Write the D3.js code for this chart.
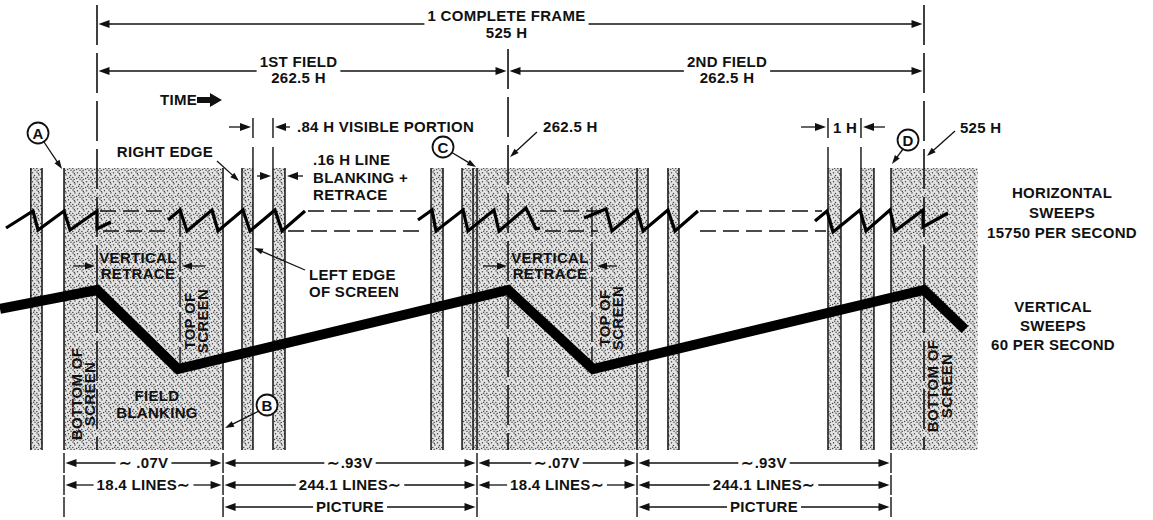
<!DOCTYPE html>
<html>
<head>
<meta charset="utf-8">
<script src="https://cdn.jsdelivr.net/npm/d3@7"></script>
<style>
  body { margin: 0; background: #fff; }
  svg { display: block; }
  text { font-family: "Liberation Sans", Arial, sans-serif; font-weight: bold; font-size: 15px; letter-spacing: 0.3px; fill: #111; }
</style>
</head>
<body>
<svg></svg>
<script>
var width = 1153,
    height = 520;

// Time runs left to right, in % of one complete frame (0 = frame start, 100 = frame end)
var frameEdges = [0, 49.7, 100];
var blankingEdges = [-8.0, -6.65, -3.99, 15.24, 17.53, 18.86, 21.28, 22.73,
    40.39, 41.84, 44.14, 45.47, 45.95, 65.30, 66.63, 69.04, 70.37,
    88.39, 89.96, 92.38, 93.95, 96.01];
var blankedSpans = [[-8.0, -6.65], [-3.99, 15.24], [17.53, 18.86], [21.28, 22.73],
    [40.39, 41.84], [44.14, 66.63], [69.04, 70.37], [88.39, 89.96], [92.38, 93.95], [96.01, 106.5]];
var screenTopMarks = [10.04, 59.85];

// Horizontal sweep: [time, beam position] with 0 = left edge, 1 = right edge
var hSweepA = [[-11.0, 0.15], [-7.74, 1], [-7.13, 0.05], [-3.99, 1], [-3.26, 0.05], [0, 1], [0, 0.1], [1.69, 0.45]];
var hSweepB = [[8.59, 0.55], [10.04, 1.05], [10.88, 0], [13.91, 1.05], [14.63, 0], [17.65, 1.05], [18.50, 0], [21.52, 1.05], [22.37, 0], [25.15, 1]];
var hSweepC = [[38.81, 0.55], [40.51, 1.05], [40.99, 0], [44.26, 1.05], [44.86, 0], [48.00, 1.05], [48.61, 0], [51.87, 1.15], [53.08, 0.1], [53.57, 0.15]];
var hSweepD = [[58.89, 0.65], [61.55, 1.1], [62.27, 0], [65.30, 1.05], [66.02, 0], [69.04, 1.05], [69.89, 0], [72.67, 1]];
var hSweepE = [[86.82, 0.5], [88.27, 1], [89.00, -0.05], [92.26, 1.05], [92.99, 0], [95.89, 1.05], [96.49, 0], [99.88, 1.05], [99.88, 0.2], [102.90, 0.9]];
// Omitted sweeps shown as dashed rails
var railRight = [[0.36, 8.83], [25.51, 39.06], [53.57, 60.82], [72.91, 87.67]];
var railLeft = [[0.73, 8.59], [23.10, 39.06], [54.17, 60.58], [72.91, 88.15]];

// Vertical sweep: 0 = top of screen, 1 = bottom of screen
var vSweepTime = [-11.73, 0, 9.79, 49.7, 59.98, 100, 104.96];
var vSweepPos = [0.76, 1, 0, 1, 0, 1, 0.5];

// Dimension labels
var topSpans = [
    { from: 0, to: 100, row: 0, shift: -4, label: ['1 COMPLETE FRAME', '525 H'] },
    { from: 0, to: 49.7, row: 1, shift: -4, label: ['1ST FIELD', '262.5 H'] },
    { from: 49.7, to: 100, row: 1, shift: 11, label: ['2ND FIELD', '262.5 H'] }
];
var bottomEdges = [-3.99, 15.24, 45.95, 65.30, 96.01];
var sweepShares = ['\u223C .07V', '\u223C.93V', '\u223C.07V', '\u223C.93V'];
var lineCounts = ['18.4  LINES\u223C', '244.1  LINES\u223C', '18.4  LINES\u223C', '244.1  LINES\u223C'];
var pictureLabels = [null, 'PICTURE', null, 'PICTURE'];

var x = d3.scaleLinear().domain([0, 100]).range([97, 924]);
var hy = d3.scaleLinear().domain([0, 1]).range([231, 211]);
var vy = d3.scaleLinear().domain([0, 1]).range([369, 290]);

var diagTop = 168,
    diagBottom = 450;

var svg = d3.select('svg')
    .attr('width', width)
    .attr('height', height);

svg.append('rect')
    .attr('width', width)
    .attr('height', height)
    .attr('fill', '#fff');

// Stipple texture for blanking intervals
var pat = svg.append('defs').append('pattern')
    .attr('id', 'stipple')
    .attr('patternUnits', 'userSpaceOnUse')
    .attr('width', 9)
    .attr('height', 9);
pat.append('rect').attr('width', 9).attr('height', 9).attr('fill', '#e4e4e4');
[[1, 1], [5.5, 1.8], [3, 4], [7.5, 4.6], [0.8, 6.5], [4.6, 7.4], [8, 8.2], [2.4, 2.6], [6.6, 6.2], [2.2, 8.4]].forEach(function(p) {
    pat.append('circle').attr('cx', p[0]).attr('cy', p[1]).attr('r', 0.75).attr('fill', '#444');
});

var g = svg.append('g');

g.selectAll('rect.blank')
    .data(blankedSpans)
    .enter().append('rect')
    .attr('class', 'blank')
    .attr('x', function(d) { return x(d[0]); })
    .attr('y', diagTop)
    .attr('width', function(d) { return x(d[1]) - x(d[0]); })
    .attr('height', diagBottom - diagTop)
    .attr('fill', 'url(#stipple)');

g.selectAll('line.edge')
    .data(blankingEdges)
    .enter().append('line')
    .attr('class', 'edge')
    .attr('x1', x).attr('x2', x)
    .attr('y1', diagTop).attr('y2', diagBottom)
    .attr('stroke', '#111')
    .attr('stroke-width', 1.5);

// Frame / field boundaries
g.selectAll('line.frame')
    .data(frameEdges)
    .enter().append('line')
    .attr('class', 'frame')
    .attr('x1', x).attr('x2', x)
    .attr('y1', function(d, i) { return i === 1 ? 49 : 5; })
    .attr('y2', diagBottom)
    .attr('stroke', '#111')
    .attr('stroke-width', 1.6)
    .attr('stroke-dasharray', '40,8');

g.selectAll('line.top')
    .data(screenTopMarks)
    .enter().append('line')
    .attr('class', 'top')
    .attr('x1', x).attr('x2', x)
    .attr('y1', 207).attr('y2', 370)
    .attr('stroke', '#111')
    .attr('stroke-width', 1.4)
    .attr('stroke-dasharray', '30,5');

// Dashed rails between drawn sweeps
[[railRight, 1], [railLeft, 0]].forEach(function(r) {
    g.selectAll(null)
        .data(r[0])
        .enter().append('line')
        .attr('x1', function(d) { return x(d[0]); })
        .attr('x2', function(d) { return x(d[1]); })
        .attr('y1', hy(r[1])).attr('y2', hy(r[1]))
        .attr('stroke', '#111')
        .attr('stroke-width', 1.5)
        .attr('stroke-dasharray', '16,7');
});

var hLine = d3.line()
    .x(function(d) { return x(d[0]); })
    .y(function(d) { return hy(d[1]); });

g.selectAll('path.hsweep')
    .data([hSweepA, hSweepB, hSweepC, hSweepD, hSweepE])
    .enter().append('path')
    .attr('class', 'hsweep')
    .attr('d', hLine)
    .attr('fill', 'none')
    .attr('stroke', '#000')
    .attr('stroke-width', 3.2)
    .attr('stroke-linejoin', 'miter');

var vLine = d3.line()
    .x(function(d, i) { return x(vSweepTime[i]); })
    .y(function(d) { return vy(d); });

g.append('path')
    .attr('d', vLine(vSweepPos))
    .attr('fill', 'none')
    .attr('stroke', '#000')
    .attr('stroke-width', 10)
    .attr('stroke-linejoin', 'miter')
    .attr('stroke-miterlimit', 10);

// ---------- annotations ----------
var ann = svg.append('g');

function arrow(x1, y1, x2, y2, len, half) {
    len = len || 11;
    half = half || 4;
    var dx = x2 - x1, dy = y2 - y1, d = Math.sqrt(dx * dx + dy * dy);
    var ux = dx / d, uy = dy / d;
    var bx = x2 - ux * len, by = y2 - uy * len;
    ann.append('line')
        .attr('x1', x1).attr('y1', y1).attr('x2', bx + ux).attr('y2', by + uy)
        .attr('stroke', '#111').attr('stroke-width', 1.3);
    ann.append('polygon')
        .attr('points', [[x2, y2], [bx - uy * half, by + ux * half], [bx + uy * half, by - ux * half]].join(' '))
        .attr('fill', '#111');
}

function label(txt, cx, y, anchor, size) {
    return ann.append('text')
        .attr('x', cx).attr('y', y)
        .attr('text-anchor', anchor || 'middle')
        .style('font-size', size ? size + 'px' : null)
        .text(txt);
}

function dimension(xa, xb, y, txt, baseline, mid) {
    var t = label(txt, mid, baseline);
    var w = t.node().getComputedTextLength();
    arrow(mid - w / 2 - 3, y, xa + 1.5, y);
    arrow(mid + w / 2 + 3, y, xb - 1.5, y);
}

// Top: frame and fields
var topRows = [{ line: 24, base: 21, sub: 38 }, { line: 71, base: 67, sub: 83 }];
topSpans.forEach(function(s) {
    var r = topRows[s.row];
    var mid = (x(s.from) + x(s.to)) / 2 + s.shift;
    dimension(x(s.from), x(s.to), r.line, s.label[0], r.base, mid);
    label(s.label[1], mid, r.sub);
});

// TIME arrow
label('TIME', x(7.62), 105, 'start');
ann.append('polygon')
    .attr('points', [[x(12.09), 97], [x(13.66), 97], [x(13.66), 93], [x(15.11), 100],
        [x(13.66), 107], [x(13.66), 103], [x(12.09), 103]].join(' '))
    .attr('fill', '#111');

// .84 H visible portion
[18.86, 21.28, 88.39, 92.38].forEach(function(t) {
    ann.append('line').attr('x1', x(t)).attr('x2', x(t)).attr('y1', 118).attr('y2', 138)
        .attr('stroke', '#111').attr('stroke-width', 1.4);
    ann.append('line').attr('x1', x(t)).attr('x2', x(t)).attr('y1', 147).attr('y2', diagTop)
        .attr('stroke', '#111').attr('stroke-width', 1.4);
});
arrow(x(15.96), 127, x(18.86) - 2, 127);
arrow(x(23.34), 127, x(21.28) + 2, 127);
label('.84 H VISIBLE PORTION', x(24.18), 132, 'start');

// .16 H line blanking
arrow(x(19.35), 176, x(21.28) - 2, 176);
arrow(x(24.91), 176, x(22.73) + 2, 176);
label('.16 H LINE', x(26.12), 165, 'start');
label('BLANKING +', x(26.12), 183, 'start');
label('RETRACE', x(26.12), 200, 'start');

// 1 H
arrow(x(85.13), 127, x(88.39) - 2, 127);
arrow(x(95.28), 127, x(92.38) + 2, 127);
label('1 H', x(90.45), 133);

// Edges of screen
label('RIGHT EDGE', x(8.22), 157);
arrow(x(14.51), 161, x(17.17), 181, 9, 3);
label('LEFT EDGE', x(25.63), 280, 'start');
label('OF SCREEN', x(25.63), 297, 'start');
arrow(x(25.15), 270, x(18.98), 248, 9, 3);

// Field boundary callouts
label('262.5 H', x(53.93), 132, 'start');
arrow(x(53.20), 132, x(49.94), 157, 9, 3);
label('525 H', x(104.35), 133, 'start');
arrow(x(103.75), 131, x(100.36), 156, 9, 3);

// Circled reference letters
var refs = [
    { k: 'A', t: -7.13, y: 133, from: [-6.41, 142], to: [-4.23, 169] },
    { k: 'B', t: 20.56, y: 405, from: [19.59, 411], to: [15.48, 428] },
    { k: 'C', t: 41.84, y: 147, from: [42.81, 152], to: [45.83, 167] },
    { k: 'D', t: 98.07, y: 140, from: [97.46, 149], to: [96.13, 164] }
];
refs.forEach(function(r) {
    arrow(x(r.from[0]), r.from[1], x(r.to[0]), r.to[1], 9, 3);
    ann.append('circle')
        .attr('cx', x(r.t)).attr('cy', r.y).attr('r', 10.5)
        .attr('fill', '#fff').attr('stroke', '#111').attr('stroke-width', 1.8);
    label(r.k, x(r.t), r.y + 5.5, 'middle', 15);
});

// Vertical retrace
[[4.96, -2.90, -0.24, 13.06, 10.28], [54.78, 46.67, 49.58, 62.88, 60.46]].forEach(function(v) {
    var cx = x(v[0]);
    label('VERTICAL', cx, 263);
    label('RETRACE', cx, 279);
    arrow(x(v[1]), 266, x(v[2]), 266, 10, 3.5);
    arrow(x(v[3]), 266, x(v[4]), 266, 10, 3.5);
});

label('FIELD', x(7.26), 401);
label('BLANKING', x(7.26), 418);

// Rotated labels
function rotated(lines, baselines, cy) {
    lines.forEach(function(l, i) {
        ann.append('text')
            .attr('transform', 'translate(' + x(baselines[i]) + ',' + cy + ') rotate(-90)')
            .attr('text-anchor', 'middle')
            .text(l);
    });
}
rotated(['TOP OF', 'SCREEN'], [11.85, 13.42], 321);
rotated(['TOP OF', 'SCREEN'], [62.03, 63.60], 318);
rotated(['BOTTOM OF', 'SCREEN'], [-1.81, -0.24], 394);
rotated(['BOTTOM OF', 'SCREEN'], [101.69, 103.39], 386);

// Right-hand titles
label('HORIZONTAL', x(116.69), 198);
label('SWEEPS', x(116.69), 218);
label('15750 PER SECOND', x(116.69), 238);
label('VERTICAL', x(115.6), 312);
label('SWEEPS', x(115.6), 331);
label('60 PER SECOND', x(115.6), 350);

// Bottom dimension rows
var bottomRows = [{ y: 463, labels: sweepShares }, { y: 485, labels: lineCounts }, { y: 507, labels: pictureLabels }];
bottomRows.forEach(function(row) {
    bottomEdges.forEach(function(t) {
        ann.append('line')
            .attr('x1', x(t)).attr('x2', x(t))
            .attr('y1', row.y - 10).attr('y2', row.y + 10)
            .attr('stroke', '#111').attr('stroke-width', 1.4);
    });
    row.labels.forEach(function(txt, i) {
        if (!txt) return;
        var xa = x(bottomEdges[i]), xb = x(bottomEdges[i + 1]);
        dimension(xa, xb, row.y, txt, row.y + 5, (xa + xb) / 2);
    });
});
</script>
</body>
</html>
